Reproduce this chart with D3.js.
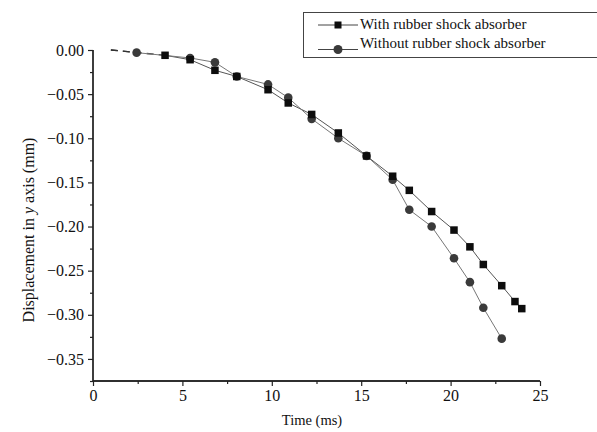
<!DOCTYPE html>
<html><head><meta charset="utf-8">
<script src="https://cdn.jsdelivr.net/npm/d3@7"></script>
<style>body{margin:0;background:#fff}svg{display:block}text{font-family:"Liberation Serif","Times New Roman",serif;fill:#111}</style>
</head><body>
<script>
const seriesNames = ["With rubber shock absorber", "Without rubber shock absorber"];
const withT = [1.0, 4.03, 5.43, 6.82, 8.04, 9.79, 10.92, 12.23, 13.72, 15.3, 16.76, 17.69, 18.94, 20.19, 21.08, 21.83, 22.86, 23.6, 23.98];
const withV = [0, -0.006, -0.011, -0.023, -0.030, -0.045, -0.060, -0.073, -0.094, -0.120, -0.143, -0.159, -0.183, -0.204, -0.223, -0.243, -0.267, -0.285, -0.293];
const withoutT = [1.0, 2.44, 5.43, 6.82, 8.04, 9.79, 10.92, 12.23, 13.72, 15.3, 16.76, 17.69, 18.94, 20.19, 21.08, 21.83, 22.86];
const withoutV = [0, -0.003, -0.009, -0.014, -0.030, -0.039, -0.054, -0.078, -0.100, -0.120, -0.147, -0.181, -0.200, -0.236, -0.263, -0.292, -0.327];
const xTicks = [0, 5, 10, 15, 20, 25];
const yTicks = [0, -0.05, -0.10, -0.15, -0.20, -0.25, -0.30, -0.35];

const W = 597, H = 432;
const svg = d3.select("body").append("svg").attr("width", W).attr("height", H);
const x = d3.scaleLinear().domain([0, 25]).range([93, 540]);
const y = d3.scaleLinear().domain([-0.375, 0]).range([381, 50]);

// axes
const gx = svg.append("g").attr("transform", "translate(0,381)");
gx.call(d3.axisBottom(x).tickValues(xTicks).tickSize(5).tickPadding(4).tickFormat(d3.format("d")));
gx.append("g").call(d3.axisBottom(x).tickValues(d3.range(2.5, 25, 5)).tickSize(3).tickFormat(""));
const gy = svg.append("g").attr("transform", "translate(93,0)");
gy.call(d3.axisLeft(y).tickValues(yTicks).tickSize(5).tickPadding(4).tickFormat(d => d3.format(".2f")(d).replace("-", "\u2212")));
gy.append("g").call(d3.axisLeft(y).tickValues(d3.range(-0.025, -0.376, -0.05)).tickSize(3).tickFormat(""));
svg.selectAll(".domain").attr("stroke", "#222").attr("stroke-width", 1.3);
svg.selectAll(".tick line").attr("stroke", "#222").attr("stroke-width", 1.2);
gx.attr("font-size", 16).attr("font-family", "Liberation Serif");
gy.attr("font-size", 16).attr("font-family", "Liberation Serif");
svg.selectAll(".tick text").style("font-size", "16px").attr("fill", "#111");
gy.selectAll(".domain").attr("d", "M0,50V381");
gx.selectAll(".domain").attr("d", "M93,0H540");

// axis titles
svg.append("text").attr("x", 312).attr("y", 425).attr("text-anchor", "middle").style("font-size", "14.5px").text("Time (ms)");
const yl = svg.append("text").attr("transform", "translate(34,230) rotate(-90)").attr("text-anchor", "middle").style("font-size", "16px");
yl.append("tspan").text("Displacement in ");
yl.append("tspan").style("font-style", "italic").text("y");
yl.append("tspan").text(" axis (mm)");

const line = d3.line().x(d => x(d[0])).y(d => y(d[1]));
const dW = withT.map((t, i) => [t, withV[i]]);
const dWo = withoutT.map((t, i) => [t, withoutV[i]]);

function drawSeries(data, color) {
  svg.append("path").datum(data.slice(0, 2)).attr("d", line).attr("fill", "none")
    .attr("stroke", "#333").attr("stroke-width", 1.3).attr("stroke-dasharray", "7,5");
  svg.append("path").datum(data.slice(1)).attr("d", line).attr("fill", "none")
    .attr("stroke", color).attr("stroke-width", 1);
}
drawSeries(dW, "#555");
drawSeries(dWo, "#777");

svg.append("g").selectAll("circle").data(dWo.slice(1)).join("circle")
  .attr("cx", d => x(d[0])).attr("cy", d => y(d[1])).attr("r", 4.3).attr("fill", "#3a3a3a");
svg.append("g").selectAll("rect").data(dW.slice(1)).join("rect")
  .attr("x", d => x(d[0]) - 3.75).attr("y", d => y(d[1]) - 3.75).attr("width", 7.5).attr("height", 7.5).attr("fill", "#0d0d0d");

// legend
const lg = svg.append("g");
lg.append("rect").attr("x", 303.5).attr("y", 12.5).attr("width", 300).attr("height", 45)
  .attr("fill", "#fff").attr("stroke", "#444").attr("stroke-width", 1);
lg.append("line").attr("x1", 318).attr("x2", 358).attr("y1", 25).attr("y2", 25).attr("stroke", "#444");
lg.append("rect").attr("x", 334.5).attr("y", 21.5).attr("width", 7).attr("height", 7).attr("fill", "#0d0d0d");
lg.append("line").attr("x1", 318).attr("x2", 358).attr("y1", 49.5).attr("y2", 49.5).attr("stroke", "#444");
lg.append("circle").attr("cx", 338).attr("cy", 49.5).attr("r", 4.5).attr("fill", "#3a3a3a");
lg.append("text").attr("x", 360).attr("y", 29).style("font-size", "15px").text(seriesNames[0]);
lg.append("text").attr("x", 360).attr("y", 47.5).style("font-size", "15px").text(seriesNames[1]);
</script>
</body></html>
